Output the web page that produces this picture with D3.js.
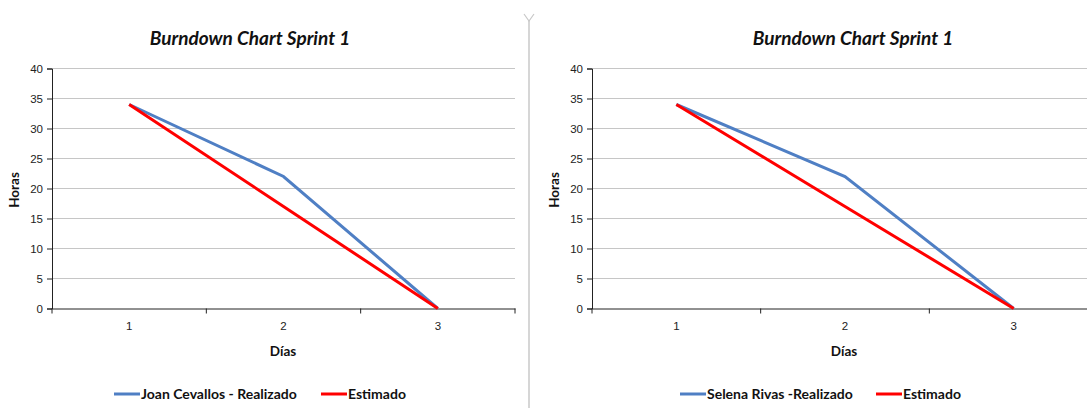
<!DOCTYPE html>
<html>
<head>
<meta charset="utf-8">
<script src="https://cdn.jsdelivr.net/npm/d3@7"></script>
<style>
  body { margin: 0; background: #fff; }
  svg { display: block; font-family: Lato, "Open Sans", sans-serif; }
</style>
</head>
<body>
<div id="d3-container"></div>
<script>
/* DATA */
const days = ["1", "2", "3"];
const horasTicks = [0, 5, 10, 15, 20, 25, 30, 35, 40];
const joanRealizado = [34, 22, 0];
const selenaRealizado = [34, 22, 0];
const estimado = [34, 17, 0];

const chartTitle = "Burndown Chart Sprint 1";
const xTitle = "Días";
const yTitle = "Horas";

/* CONSTANTS */
const width = 1087, height = 408;
const blue = "#4f7fc4", red = "#ff0000";

const svg = d3.select("#d3-container")
  .append("svg")
  .attr("width", width)
  .attr("height", height);

// separator between the two charts
svg.append("line")
  .attr("x1", 529).attr("x2", 529).attr("y1", 20).attr("y2", height)
  .attr("stroke", "#c8c8c8").attr("stroke-width", 1.5);
svg.append("path")
  .attr("d", "M524,14 L529,21 L534,14")
  .attr("fill", "none").attr("stroke", "#c8c8c8").attr("stroke-width", 1.2);

function drawChart(cfg) {
  const g = svg.append("g");

  const x = d3.scaleBand().domain(days).range([cfg.left, cfg.right]);
  const y = d3.scaleLinear().domain([0, 40]).range([308.5, 68.5]);

  // gridlines
  g.selectAll("line.grid")
    .data(horasTicks.filter(d => d > 0))
    .join("line")
    .attr("class", "grid")
    .attr("x1", cfg.left).attr("x2", cfg.right)
    .attr("y1", d => y(d)).attr("y2", d => y(d))
    .attr("stroke", "#c6c6c6").attr("stroke-width", 1);

  // y axis
  const yAxis = g.append("g")
    .attr("transform", `translate(${cfg.left},0)`)
    .call(d3.axisLeft(y).tickValues(horasTicks).tickSize(5).tickPadding(4));
  yAxis.select(".domain").attr("stroke", "#222");
  yAxis.selectAll(".tick line").attr("stroke", "#222");
  yAxis.selectAll("text").attr("font-size", 11.5).attr("fill", "#222");

  // x axis
  const xAxis = g.append("g")
    .attr("transform", `translate(0,${y(0)})`)
    .call(d3.axisBottom(x).tickSize(0).tickPadding(13));
  xAxis.select(".domain").attr("stroke", "#222");
  xAxis.selectAll("text").attr("font-size", 11.5).attr("fill", "#222");
  // tick marks between categories
  const bounds = days.map(d => x(d)).concat([x(days[days.length - 1]) + x.bandwidth()]);
  g.selectAll("line.xtick")
    .data(bounds)
    .join("line")
    .attr("class", "xtick")
    .attr("x1", d => d).attr("x2", d => d)
    .attr("y1", y(0)).attr("y2", y(0) + 5)
    .attr("stroke", "#222");

  const line = d3.line()
    .x((d, i) => x(days[i]) + x.bandwidth() / 2)
    .y(d => y(d));

  g.append("path")
    .datum(cfg.realizado)
    .attr("d", line)
    .attr("fill", "none").attr("stroke", blue).attr("stroke-width", 3);
  g.append("path")
    .datum(estimado)
    .attr("d", line)
    .attr("fill", "none").attr("stroke", red).attr("stroke-width", 3);

  // titles
  g.append("text")
    .attr("x", cfg.titleX).attr("y", 45)
    .attr("text-anchor", "middle")
    .attr("font-size", 19).attr("font-weight", "bold").attr("font-style", "italic")
    .attr("fill", "#111")
    .text(chartTitle);

  g.append("text")
    .attr("x", cfg.xTitleX).attr("y", 356)
    .attr("text-anchor", "middle")
    .attr("font-size", 13.5).attr("font-weight", "bold").attr("fill", "#111")
    .text(xTitle);

  g.append("text")
    .attr("transform", `translate(${cfg.yTitleX},190) rotate(-90)`)
    .attr("text-anchor", "middle")
    .attr("font-size", 13.5).attr("font-weight", "bold").attr("fill", "#111")
    .text(yTitle);

  // legend
  const legend = g.append("g").attr("transform", "translate(0,394)");
  const items = [
    { name: cfg.name, color: blue, x: cfg.legendX[0] },
    { name: "Estimado", color: red, x: cfg.legendX[1] }
  ];
  items.forEach(it => {
    legend.append("line")
      .attr("x1", it.x).attr("x2", it.x + 26)
      .attr("y1", 0).attr("y2", 0)
      .attr("stroke", it.color).attr("stroke-width", 3);
    legend.append("text")
      .attr("x", it.x + 27).attr("y", 5)
      .attr("font-size", 14).attr("font-weight", "bold").attr("fill", "#111")
      .text(it.name);
  });
}

drawChart({
  left: 52, right: 515, titleX: 250, xTitleX: 283, yTitleX: 19,
  realizado: joanRealizado, name: "Joan Cevallos - Realizado", legendX: [114, 321]
});
drawChart({
  left: 592, right: 1098, titleX: 853, xTitleX: 844, yTitleX: 559,
  realizado: selenaRealizado, name: "Selena Rivas -Realizado", legendX: [680, 876]
});
</script>
</body>
</html>
